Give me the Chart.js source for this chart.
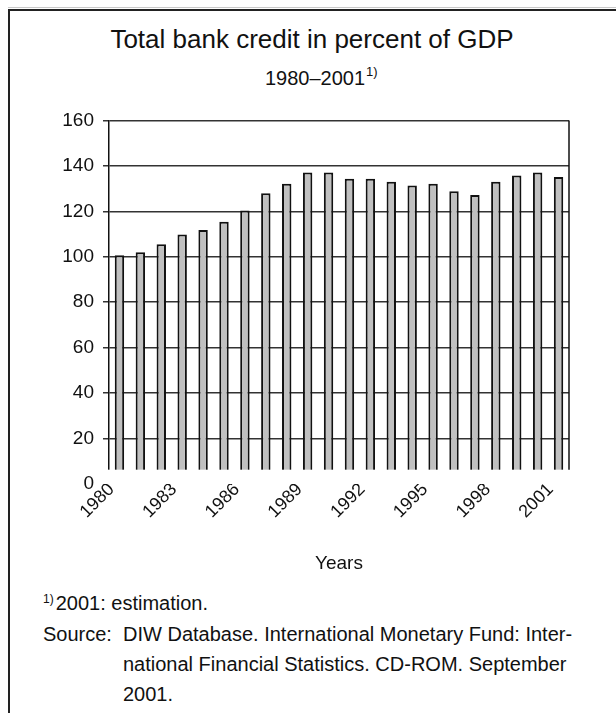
<!DOCTYPE html>
<html>
<head>
<meta charset="utf-8">
<script src="https://cdn.jsdelivr.net/npm/chart.js@4.4.1/dist/chart.umd.min.js"></script>
<style>
  html, body { margin: 0; padding: 0; background: #fff; }
  body { font-family: "Liberation Sans", Arial, Helvetica, sans-serif; color: #111; }
  #page { position: relative; width: 616px; height: 713px; overflow: hidden; background: #fff; }
  #topgray { position: absolute; left: 8px; top: 7px; right: 0; height: 1px; background: #c8c8c8; }
  #frame { position: absolute; left: 8px; top: 9px; right: -10px; bottom: -10px;
           border-left: 2px solid #222; border-top: 2px solid #222; }
  #title { position: absolute; left: 8px; right: 0; top: 24px; text-align: center;
           font-size: 26px; line-height: 30px; white-space: nowrap; }
  #subtitle { position: absolute; left: 14px; right: 0; top: 66px; text-align: center;
              font-size: 20px; line-height: 24px; white-space: nowrap; }
  #subtitle .sup { position: relative; }
  #subtitle .sup span { position: absolute; left: 1px; top: -7px; font-size: 13px; }
  #chartbox { position: absolute; left: 0; top: 100px; width: 616px; height: 480px; }
  .foot { position: absolute; font-size: 20px; line-height: 30px; white-space: nowrap; }
  #fn { left: 43px; top: 588px; }
  #fn sup { font-size: 12px; vertical-align: 7px; line-height: 0; margin-right: 2px; }
  #src { left: 43px; top: 619px; }
  #src .lab { position: absolute; left: 0; top: 0; }
  #src .body { position: absolute; left: 80px; top: 0; }
</style>
</head>
<body>
<div id="page">
  <div id="topgray"></div>
  <div id="frame"></div>
  <div id="title">Total bank credit in percent of GDP</div>
  <div id="subtitle">1980–2001<span class="sup"><span>1)</span></span></div>
  <div id="chartbox"><canvas id="c"></canvas></div>
  <div id="fn" class="foot"><sup>1)</sup>2001: estimation.</div>
  <div id="src" class="foot">
    <div class="lab">Source:</div>
    <div class="body">DIW Database. International Monetary Fund: Inter-<br>national Financial Statistics. CD-ROM. September<br>2001.</div>
  </div>
</div>
<script>
// ---- data ----
const years = ['1980','1981','1982','1983','1984','1985','1986','1987','1988','1989','1990',
               '1991','1992','1993','1994','1995','1996','1997','1998','1999','2000','2001'];
const creditPct = [100.7, 102.0, 105.5, 109.8, 111.8, 115.4, 120.4, 127.9, 132.1, 137.1, 137.1,
                   134.3, 134.3, 133.0, 131.4, 132.1, 128.8, 127.2, 133.0, 135.7, 137.1, 135.1];
const shownYearLabels = ['1980','1983','1986','1989','1992','1995','1998','2001'];
const yTickValues = [0, 20, 40, 60, 80, 100, 120, 140, 160];
const xAxisTitle = 'Years';
// the source graphic hides the lowest part of the plot behind its year labels
const hiddenBelowValue = 6.3;

const FONT = '"Liberation Sans", Arial, Helvetica, sans-serif';
const INK = '#111';

const cutPlugin = {
  id: 'cutBottom',
  afterDatasetsDraw(chart) {
    const { ctx, chartArea: a, scales: { y } } = chart;
    const cutY = y.getPixelForValue(hiddenBelowValue);
    ctx.save();
    ctx.fillStyle = '#fff';
    ctx.fillRect(a.left - 9, cutY, a.right - a.left + 13, a.bottom - cutY + 4);
    ctx.strokeStyle = INK;
    ctx.lineWidth = 1.5;
    ctx.beginPath();
    ctx.moveTo(a.right, a.top);
    ctx.lineTo(a.right, cutY);
    ctx.stroke();
    ctx.restore();
  }
};

new Chart(document.getElementById('c'), {
  type: 'bar',
  data: {
    labels: years,
    datasets: [{
      label: 'Total bank credit in percent of GDP',
      data: creditPct,
      backgroundColor: '#c0c0c0',
      borderColor: INK,
      borderWidth: 2,
      categoryPercentage: 1.0,
      barPercentage: 0.45
    }]
  },
  options: {
    responsive: true,
    maintainAspectRatio: false,
    devicePixelRatio: 1,
    animation: false,
    layout: { padding: { left: 20, right: 47, top: 19, bottom: 0 } },
    plugins: {
      legend: { display: false },
      tooltip: { enabled: false },
      title: { display: false }
    },
    scales: {
      x: {
        z: 1,
        grid: { display: false, drawTicks: false },
        border: { display: false },
        ticks: {
          z: 1,
          autoSkip: false,
          minRotation: 45,
          maxRotation: 45,
          padding: -5,
          labelOffset: -8,
          color: INK,
          font: { family: FONT, size: 18 },
          callback: function (value, index) {
            const lab = years[index];
            return shownYearLabels.includes(lab) ? lab : '';
          }
        },
        title: {
          display: true,
          text: xAxisTitle,
          color: INK,
          font: { family: FONT, size: 19 },
          padding: { top: 0, bottom: 5 }
        },
        afterFit: function (scale) { scale.height = 96; }
      },
      y: {
        min: yTickValues[0],
        max: yTickValues[yTickValues.length - 1],
        afterBuildTicks: function (scale) {
          scale.ticks = yTickValues.map(v => ({ value: v }));
        },
        grid: { color: '#333', lineWidth: 1.5, tickLength: 6, drawTicks: true },
        border: { display: true, color: INK, width: 1.5 },
        ticks: {
          padding: 9,
          color: INK,
          font: { family: FONT, size: 19 }
        },
        afterFit: function (scale) { scale.width = 89; }
      }
    }
  },
  plugins: [cutPlugin]
});
</script>
</body>
</html>
